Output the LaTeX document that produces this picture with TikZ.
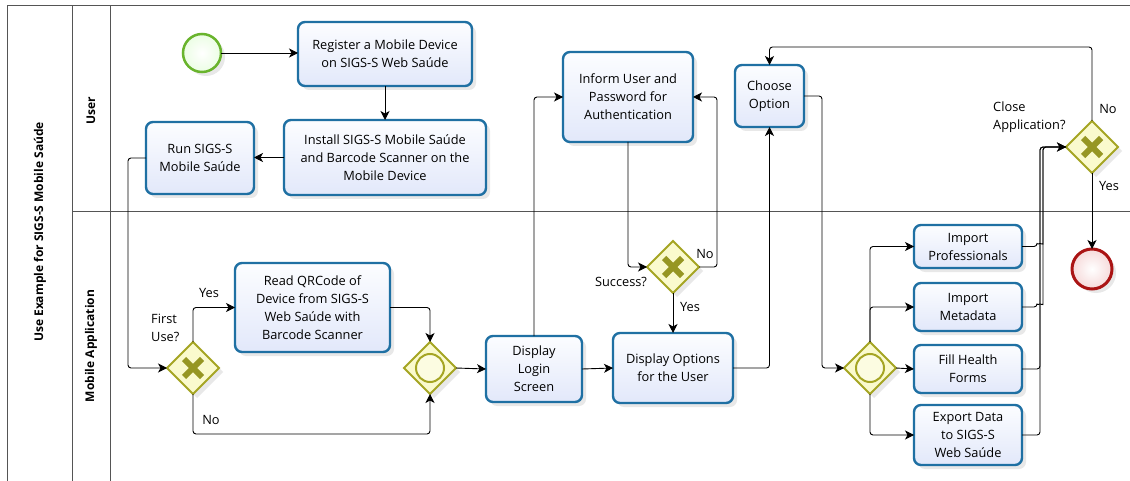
\documentclass[tikz,border=0pt]{standalone}
\usepackage{fontspec}
\setmainfont{Open Sans}
\usetikzlibrary{arrows.meta,shapes.geometric,shadows,calc}
\definecolor{boxline}{RGB}{31,112,163}
\definecolor{boxtop}{RGB}{252,253,255}
\definecolor{boxbot}{RGB}{226,232,250}
\definecolor{gwline}{RGB}{165,165,35}
\definecolor{gwfill}{RGB}{250,250,205}
\definecolor{gwx}{RGB}{150,150,35}
\definecolor{stline}{RGB}{105,180,45}
\definecolor{stfill}{RGB}{236,248,205}
\definecolor{enline}{RGB}{170,20,20}
\definecolor{enfill}{RGB}{246,218,218}
\definecolor{frameline}{RGB}{85,85,85}
\begin{document}
\begin{tikzpicture}[x=1pt,y=-1pt,
  font=\fontsize{12.8}{18}\selectfont,
  shad/.style={drop shadow={opacity=0.18, shadow xshift=4pt, shadow yshift=-4pt}},
  task/.style={draw=boxline, line width=2.4pt, rounded corners=7pt, top color=boxtop, bottom color=boxbot,
    align=center, inner sep=0pt, outer sep=0pt, shad},
  gwbase/.style={diamond, draw=gwline, line width=2pt, fill=gwfill, minimum size=52pt, inner sep=0pt, outer sep=0pt, shad},
  xgw/.style={gwbase, path picture={
      \draw[gwx, line width=6pt] ([xshift=-9pt,yshift=-9pt]path picture bounding box.center) -- ([xshift=9pt,yshift=9pt]path picture bounding box.center);
      \draw[gwx, line width=6pt] ([xshift=-9pt,yshift=9pt]path picture bounding box.center) -- ([xshift=9pt,yshift=-9pt]path picture bounding box.center);}},
  ogw/.style={gwbase, path picture={
      \draw[gwline, line width=2pt, fill=gwfill!60!white] (path picture bounding box.center) circle (14pt);}},
  flow/.style={draw=black, line width=0.9pt, rounded corners=3pt, -{Stealth[length=9pt,width=9pt,inset=2.5pt]}},
  plain/.style={draw=black, line width=0.9pt, rounded corners=3pt},
  lbl/.style={inner sep=0pt, align=left},
  lane/.style={font=\fontsize{12}{14}\selectfont\bfseries, rotate=90, inner sep=0pt},
  frm/.style={draw=frameline, line width=1pt}
  ]
\useasboundingbox (0,0) rectangle (1130,481);
\fill[white] (0,0) rectangle (1130,481);
% frame
\draw[frm] (7,481) -- (7,6) -- (1130,6);
\draw[frm] (72,6) -- (72,481);
\draw[frm] (110,6) -- (110,481);
\draw[frm] (72,212) -- (1130,212);
\node[lane] (pool) at (40,232) {Use Example for SIGS-S Mobile Saúde};
\node[lane] (laneU) at (91,111) {User};
\node[lane] (laneM) at (91,346) {Mobile Application};

% events
\node[circle, draw=stline, line width=2.5pt, inner color=white, outer color=stfill!80!green!30!white, minimum size=38pt, inner sep=0pt, outer sep=0pt, shad] (start) at (202,53) {};
\node[circle, draw=enline, line width=3pt, inner color=white, outer color=enfill, minimum size=40pt, inner sep=0pt, outer sep=0pt, shad] (end) at (1092,269) {};

% tasks
\node[task, minimum width=174pt, minimum height=64pt] (reg) at (385,54) {Register a Mobile Device\\on SIGS-S Web Saúde};
\node[task, minimum width=202pt, minimum height=75pt] (inst) at (385,157.5) {Install SIGS-S Mobile Saúde\\and Barcode Scanner on the\\Mobile Device};
\node[task, minimum width=108pt, minimum height=72pt] (run) at (200,158) {Run SIGS-S\\Mobile Saúde};
\node[task, minimum width=130pt, minimum height=90pt] (inform) at (628,97) {Inform User and\\Password for\\Authentication};
\node[task, minimum width=69pt, minimum height=62pt] (choose) at (769.5,96) {Choose\\Option};
\node[task, minimum width=155pt, minimum height=89pt] (read) at (312.5,307.5) {Read QRCode of\\Device from SIGS-S\\Web Saúde with\\Barcode Scanner};
\node[task, minimum width=96pt, minimum height=66pt] (login) at (534,369) {Display\\Login\\Screen};
\node[task, minimum width=120pt, minimum height=70pt] (opts) at (673,368) {Display Options\\for the User};
\node[task, minimum width=108pt, minimum height=43pt] (prof) at (968,246.5) {Import\\Professionals};
\node[task, minimum width=108pt, minimum height=48pt] (meta) at (968,307) {Import\\Metadata};
\node[task, minimum width=108pt, minimum height=48pt] (fill) at (968,369) {Fill Health\\Forms};
\node[task, minimum width=108pt, minimum height=60pt] (exp) at (968,435) {Export Data\\to SIGS-S\\Web Saúde};

% gateways
\node[xgw] (first) at (193,368) {};
\node[ogw] (merge) at (430,368) {};
\node[xgw] (succ) at (673,267) {};
\node[ogw] (split) at (870,368) {};
\node[xgw] (close) at (1092,147) {};

% labels
\node[lbl, anchor=west] (lfirst) at (151,328) {First\\Use?};
\node[lbl] (lyes1) at (209,293) {Yes};
\node[lbl] (lno1) at (211,420) {No};
\node[lbl] (lsucc) at (621,282) {Success?};
\node[lbl] (lno2) at (705,254) {No};
\node[lbl] (lyes2) at (690,307) {Yes};
\node[lbl, anchor=west] (lclose) at (993,117) {Close\\Application?};
\node[lbl] (lno3) at (1108,109) {No};
\node[lbl] (lyes3) at (1109,186) {Yes};

% flows
\draw[flow] (start.east) -- (start.east -| reg.west);
\draw[flow] (reg.south) -- (inst.north);
\draw[flow] (inst.west) -- (inst.west -| run.east);
\draw[flow] (run.west) -- ++(-18,0) |- (first.west);
\draw[flow] (first.north) |- (read.west);
\draw[flow] (first.south) -- ++(0,40) -| (merge.south);
\draw[flow] (read.east) -| (merge.north);
\draw[flow] (merge.east) -- (login.west);
\draw[flow] (login.north) |- (inform.west);
\draw[flow] (inform.south) |- (succ.west);
\draw[flow] (succ.east) -- ++(18,0) |- (inform.east);
\draw[flow] (succ.south) -- (opts.north);
\draw[flow] (login.east) -- (opts.west);
\draw[flow] (opts.east) -| (choose.south);
\draw[flow] (choose.east) -- ++(18,0) |- (split.west);
\draw[flow] (split.north) |- (prof.west);
\draw[flow] (split.north) |- (meta.west);
\draw[flow] (split.east) -- (fill.west);
\draw[flow] (split.south) |- (exp.west);
\coordinate (bus) at (1040,147);
\draw[flow] (fill.east) -| (bus) -- (close.west);
\draw[flow] (exp.east) -| (bus) -- (close.west);
\draw[plain] (prof.east) -- ($(prof.east -| bus)+(-3,0)$) arc[start angle=180, end angle=0, radius=3pt] |- (close.west);
\draw[plain] (meta.east) -- ($(meta.east -| bus)+(-3,0)$) arc[start angle=180, end angle=0, radius=3pt] |- (close.west);
\draw[flow] (close.north) -- ++(0,-74) -| (choose.north);
\draw[flow] (close.south) -- (end.north);
\end{tikzpicture}
\end{document}
